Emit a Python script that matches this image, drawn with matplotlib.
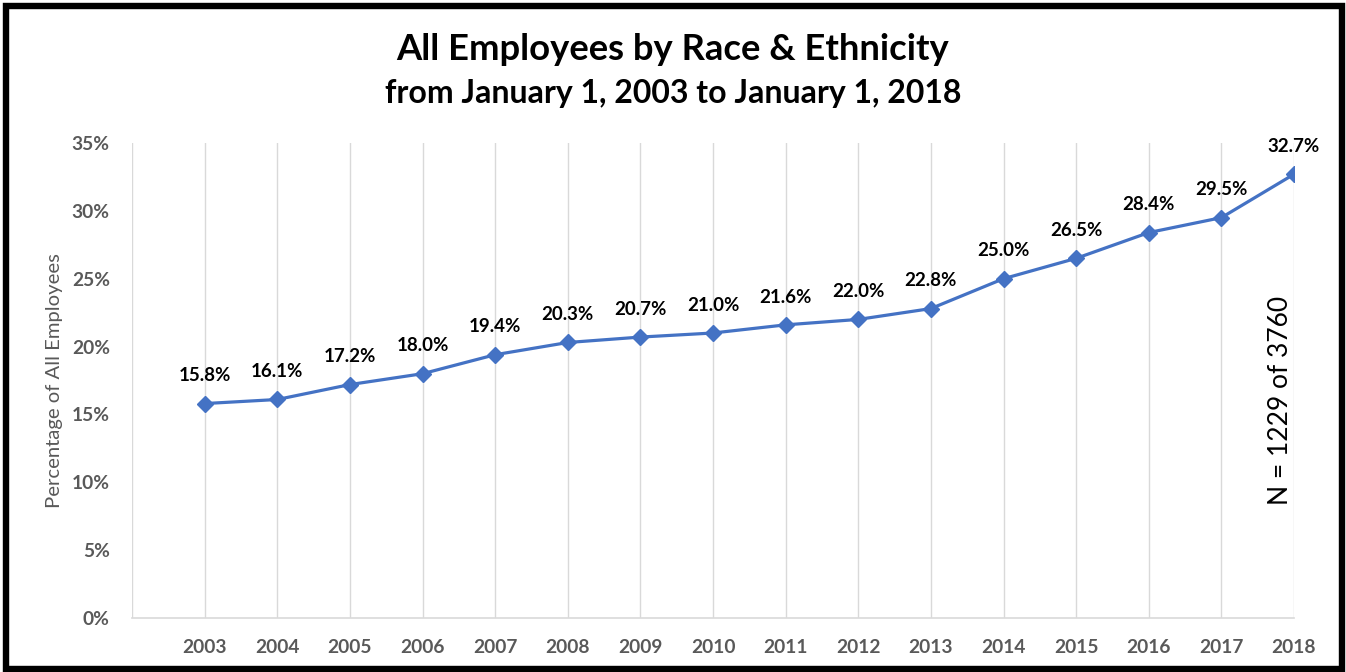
import matplotlib
matplotlib.use("Agg")
import matplotlib.pyplot as plt
from matplotlib.patches import Rectangle
from matplotlib.ticker import FuncFormatter

# Share of all employees who are racial/ethnic minorities, by year
years = [2003, 2004, 2005, 2006, 2007, 2008, 2009, 2010,
         2011, 2012, 2013, 2014, 2015, 2016, 2017, 2018]
pct = [15.8, 16.1, 17.2, 18.0, 19.4, 20.3, 20.7, 21.0,
       21.6, 22.0, 22.8, 25.0, 26.5, 28.4, 29.5, 32.7]
y_ticks = [0, 5, 10, 15, 20, 25, 30, 35]

title = "All Employees by Race & Ethnicity"
subtitle = "from January 1, 2003 to January 1, 2018"
y_label = "Percentage of All Employees"
n_note = "N = 1229 of 3760"

BLUE = "#4472C4"
GREY = "#595959"
GRID = "#D9D9D9"
FONT = "Lato"

W, H = 1346, 672
fig = plt.figure(figsize=(W / 100, H / 100), dpi=100)
fig.patch.set_facecolor("white")

ax = fig.add_axes([132 / W, 1 - 618 / H, (1294 - 132) / W, (618 - 143) / H])

ax.plot(years, pct, color=BLUE, lw=2.3, marker="D", markersize=8,
        markerfacecolor=BLUE, markeredgecolor=BLUE, zorder=3)

for x, v in zip(years, pct):
    ax.annotate(f"{v:.1f}%", (x, v), xytext=(0, 20), textcoords="offset points",
                ha="center", va="center", fontsize=13.5, fontweight="bold",
                family=FONT, color="black")

ax.set_xlim(years[0] - 1, years[-1])
ax.set_ylim(0, 35)

ax.set_xticks([years[0] - 1] + years)
ax.set_xticklabels([""] + [str(y) for y in years])
ax.set_yticks(y_ticks)
ax.yaxis.set_major_formatter(FuncFormatter(lambda v, _: f"{v:.0f}%"))

for lab in ax.get_xticklabels() + ax.get_yticklabels():
    lab.set_family(FONT)
    lab.set_fontweight("bold")
    lab.set_fontsize(13.8)
    lab.set_color(GREY)

ax.tick_params(axis="both", length=0)
ax.tick_params(axis="x", pad=15)
ax.tick_params(axis="y", pad=16)

ax.grid(axis="x", color=GRID, lw=1)
ax.grid(axis="y", visible=False)
ax.set_axisbelow(True)
for side in ("top", "right", "left"):
    ax.spines[side].set_visible(False)
ax.spines["bottom"].set_color(GRID)
ax.spines["bottom"].set_linewidth(1.2)

ax.set_ylabel(y_label, family=FONT, fontsize=14.6, color=GREY, labelpad=6)

ax.text(0.988, 0.459, n_note, transform=ax.transAxes, rotation=90,
        ha="center", va="center", fontsize=19, family=FONT, color="black")

fig.text(0.5, 1 - 50 / H, title, ha="center", va="center",
         fontsize=26.2, fontweight="bold", family=FONT, color="black")
fig.text(0.5, 1 - 93 / H, subtitle, ha="center", va="center",
         fontsize=23, fontweight="bold", family=FONT, color="black")

# Heavy black frame around the whole figure
fig.patches.append(Rectangle((6 / W, 1 - 669 / H), (1342 - 6) / W, (669 - 6) / H,
                             transform=fig.transFigure, fill=False,
                             edgecolor="black", lw=4.6, zorder=10))

fig.savefig("out.png", dpi=100, facecolor="white")
